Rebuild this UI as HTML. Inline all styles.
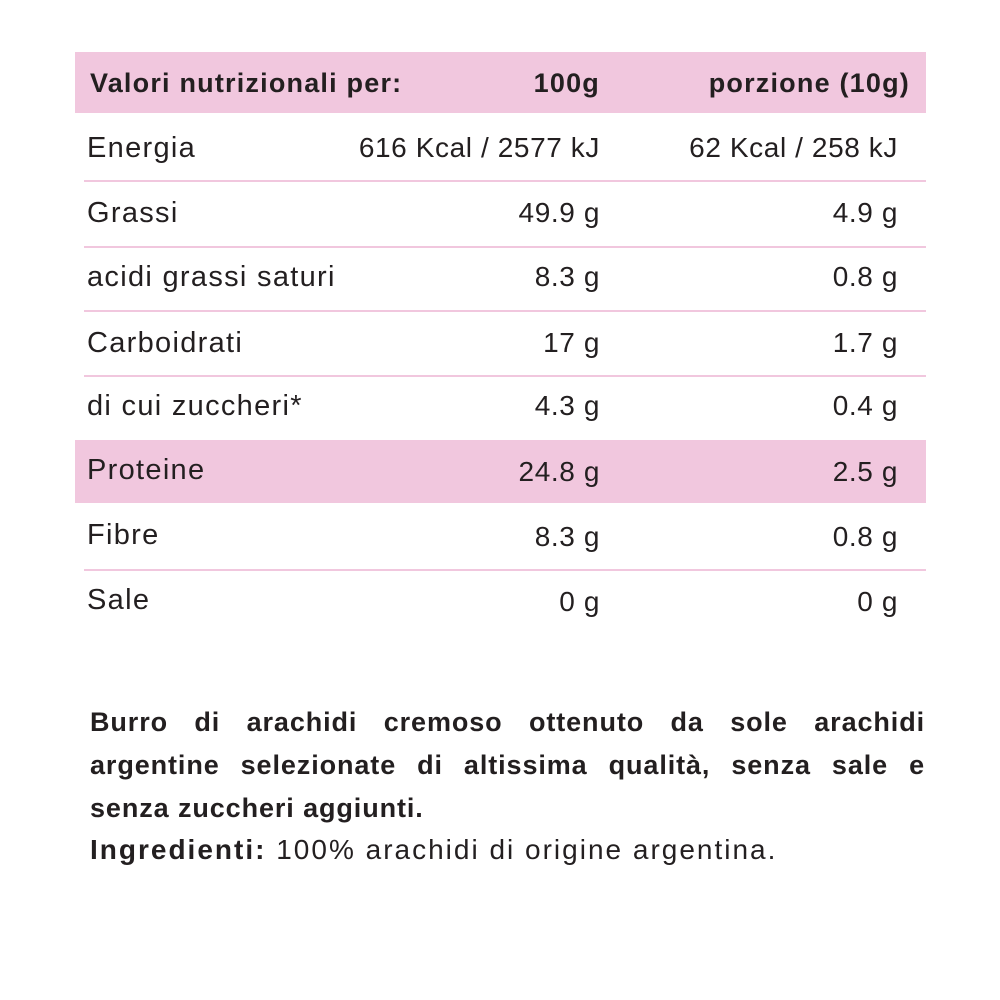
<!DOCTYPE html>
<html><head><meta charset="utf-8"><style>
body{margin:0;width:1000px;height:1000px;background:#fff;position:relative;overflow:hidden;font-family:"Liberation Sans",sans-serif;color:#231f20}
.band{position:absolute;left:75px;width:851px;background:#f1c7de}
.line{position:absolute;left:84px;width:842px;height:2px;background:#f1c7de}
.t{position:absolute;font-size:29px;line-height:30px;white-space:nowrap;letter-spacing:1.3px}
.l{left:87px}
.r1{right:400px;text-align:right;font-size:28px;letter-spacing:0.6px}
.r2{right:102px;text-align:right;font-size:28px;letter-spacing:0.6px}
.b{font-weight:bold;font-size:27px;letter-spacing:1.2px}
.p{position:absolute;left:90px;width:835px;margin:0;font-size:27px;line-height:43px;font-weight:bold;letter-spacing:0.9px;white-space:nowrap}
.j{text-align:justify;text-align-last:justify}
</style></head><body>
<div class="band" style="top:52px;height:61px"></div>
<div class="band" style="top:440px;height:63px"></div>
<div class="line" style="top:180px"></div>
<div class="line" style="top:246px"></div>
<div class="line" style="top:310px"></div>
<div class="line" style="top:375px"></div>
<div class="line" style="top:569px"></div>

<div class="t l b" style="top:68px;left:90px">Valori nutrizionali per:</div>
<div class="t r1 b" style="top:68px">100g</div>
<div class="t r2 b" style="top:68px;right:90px">porzione (10g)</div>

<div class="t l" style="top:133px">Energia</div><div class="t r1" style="top:133px">616 Kcal / 2577 kJ</div><div class="t r2" style="top:133px">62 Kcal / 258 kJ</div>
<div class="t l" style="top:198px">Grassi</div><div class="t r1" style="top:198px">49.9 g</div><div class="t r2" style="top:198px">4.9 g</div>
<div class="t l" style="top:262px">acidi grassi saturi</div><div class="t r1" style="top:262px">8.3 g</div><div class="t r2" style="top:262px">0.8 g</div>
<div class="t l" style="top:328px">Carboidrati</div><div class="t r1" style="top:328px">17 g</div><div class="t r2" style="top:328px">1.7 g</div>
<div class="t l" style="top:391px">di cui zuccheri*</div><div class="t r1" style="top:391px">4.3 g</div><div class="t r2" style="top:391px">0.4 g</div>
<div class="t l" style="top:455px">Proteine</div><div class="t r1" style="top:457px">24.8 g</div><div class="t r2" style="top:457px">2.5 g</div>
<div class="t l" style="top:520px">Fibre</div><div class="t r1" style="top:522px">8.3 g</div><div class="t r2" style="top:522px">0.8 g</div>
<div class="t l" style="top:585px">Sale</div><div class="t r1" style="top:587px">0 g</div><div class="t r2" style="top:587px">0 g</div>

<div class="p j" style="top:701px">Burro di arachidi cremoso ottenuto da sole arachidi</div>
<div class="p j" style="top:744px">argentine selezionate di altissima qualità, senza sale e</div>
<div class="p" style="top:787px">senza zuccheri aggiunti.</div>
<div class="t" style="top:835px;left:90px;font-size:28px;letter-spacing:2px">
<b>Ingredienti:</b> 100% arachidi di origine argentina.</div>
</body></html>
